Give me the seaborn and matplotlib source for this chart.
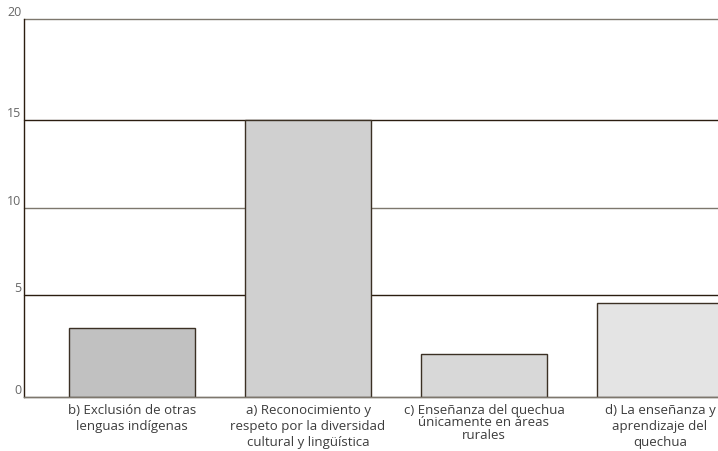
import numpy as np
import pandas as pd
import seaborn as sns
import matplotlib.pyplot as plt

categories = [
    'b) Exclusión de otras\nlenguas indígenas',
    'a) Reconocimiento y\nrespeto por la diversidad\ncultural y lingüística',
    'c) Enseñanza del quechua\núnicamente en áreas\nrurales',
    'd) La enseñanza y\naprendizaje del\nquechua',
]
values = [3.4, 15, 2.1, 4.6]
bar_colors = ['#c1c1c1', '#d0d0d0', '#d8d8d8', '#e4e4e4']
y_ticks = [0, 5, 10, 15, 20]

# the source axis is not evenly spaced, follow its gridline spacing
tick_px = [0, 102, 189, 277, 378]
knots_v = [-20] + y_ticks + [40]
knots_p = [-408] + tick_px + [786]


def fwd(y):
    return np.interp(y, knots_v, knots_p)


def inv(p):
    return np.interp(p, knots_p, knots_v)


data = pd.DataFrame({'Category': categories, 'Count': values})

sns.set_theme(style='white')
plt.rcParams['font.family'] = ['Open Sans', 'DejaVu Sans']

fig = plt.figure(figsize=(7.18, 4.51), dpi=100)
ax = fig.add_axes([24 / 718, 54 / 451, 694 / 718, 378 / 451])

ax.set_yscale('function', functions=(fwd, inv))

grid_colors = ['#7d776d', '#2b1d10', '#7d776d', '#2b1d10', '#7d776d']
for t, c in zip(y_ticks, grid_colors):
    ax.axhline(t, color=c, linewidth=1.0, zorder=0, clip_on=False)

sns.barplot(data=data, x='Category', y='Count', hue='Category', palette=bar_colors,
            legend=False, width=0.716, edgecolor='#3b3024', linewidth=1.0,
            saturation=1, ax=ax, zorder=2)

ax.set_xlim(-0.614, 3.33)
ax.set_ylim(0, 20)
ax.set_yticks(y_ticks)
ax.set_yticklabels([str(t) for t in y_ticks], va='bottom', color='#666666', fontsize=9)
ax.tick_params(axis='y', length=0, pad=2)
ax.tick_params(axis='x', length=0, pad=5, labelsize=9.5, labelcolor='#3c3c3c')
for lbl in ax.get_xticklabels():
    lbl.set_linespacing(1.3)
    if lbl.get_text().startswith('c)'):
        lbl.set_linespacing(0.95)

ax.set_xlabel('')
ax.set_ylabel('')
for s in ['top', 'right']:
    ax.spines[s].set_visible(False)
ax.spines['left'].set_color('#2b1d10')
ax.spines['left'].set_linewidth(1.0)
ax.spines['bottom'].set_color('#7d776d')
ax.spines['bottom'].set_linewidth(1.0)

fig.savefig('out.png', dpi=100)
